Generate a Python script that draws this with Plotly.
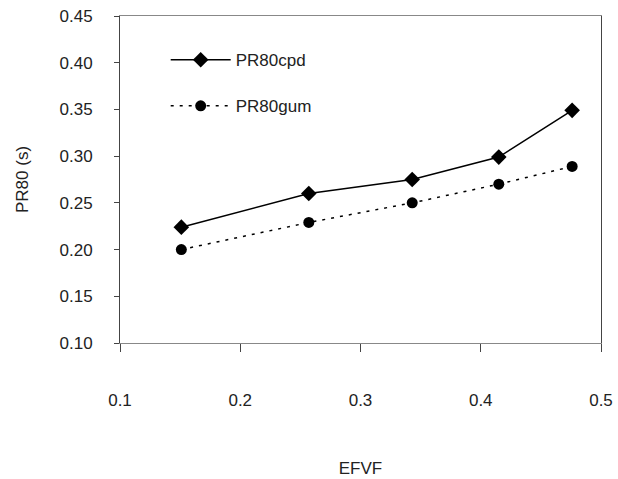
import plotly.graph_objects as go

efvf = [0.151, 0.257, 0.343, 0.415, 0.476]
pr80_cpd = [0.224, 0.260, 0.275, 0.299, 0.349]
pr80_gum = [0.200, 0.229, 0.250, 0.270, 0.289]
x_ticks = [0.1, 0.2, 0.3, 0.4, 0.5]
y_ticks = [0.10, 0.15, 0.20, 0.25, 0.30, 0.35, 0.40, 0.45]

FONT = "Liberation Sans, Arial, sans-serif"

fig = go.Figure()
fig.add_trace(go.Scatter(
    x=efvf, y=pr80_cpd, name="PR80cpd", mode="lines+markers",
    legendgroup="a",
    line=dict(color="black", width=1.5),
    marker=dict(symbol="diamond", size=12, color="black"),
))
fig.add_trace(go.Scatter(
    x=efvf, y=pr80_gum, name="PR80gum", mode="lines+markers",
    legendgroup="b",
    line=dict(color="black", width=1.5, dash="3px,6px"),
    marker=dict(symbol="circle", size=11, color="black"),
))

fig.update_layout(
    width=618, height=479,
    margin=dict(l=120, r=17, t=16, b=136),
    paper_bgcolor="white", plot_bgcolor="white",
    font=dict(family=FONT, size=17, color="#222"),
    showlegend=True,
    legend=dict(
        x=0.095, y=0.92, xanchor="left", yanchor="top",
        bgcolor="rgba(0,0,0,0)", borderwidth=0,
        itemwidth=60, tracegroupgap=21, traceorder="grouped",
        font=dict(size=17, color="#222"),
    ),
    xaxis=dict(
        range=[0.1, 0.5], tickvals=x_ticks,
        ticktext=[f"{v:.1f}" for v in x_ticks],
        showgrid=False, zeroline=False, automargin=False,
        showline=True, linecolor="#888", linewidth=1, mirror=True,
        ticks="outside", ticklen=8, tickcolor="#444",
        ticklabelstandoff=34,
        title=dict(text="EFVF", standoff=52, font=dict(size=17)),
    ),
    yaxis=dict(
        range=[0.10, 0.45], tickvals=y_ticks,
        ticktext=[f"{v:.2f}" for v in y_ticks],
        showgrid=False, zeroline=False, automargin=False,
        showline=True, linecolor="#444", linewidth=1, mirror=True,
        ticks="outside", ticklen=5, tickcolor="#444",
        ticklabelstandoff=18,
        title=dict(text="PR80 (s)", standoff=26, font=dict(size=17)),
    ),
)

fig.write_html("out.html")
